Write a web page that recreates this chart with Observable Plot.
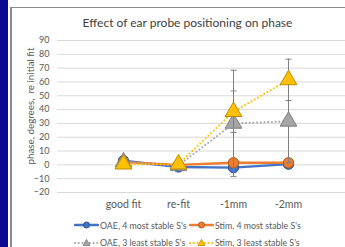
<!DOCTYPE html>
<html><head><meta charset="utf-8">
<script src="https://cdn.jsdelivr.net/npm/d3@7"></script>
<script src="https://cdn.jsdelivr.net/npm/@observablehq/plot@0.6"></script>
<style>
html,body{margin:0;padding:0;background:#fff;overflow:hidden}
#wrap{position:relative;width:345px;height:247px;overflow:hidden;font-family:Lato,"Open Sans",sans-serif}
#strip{position:absolute;left:0;top:0;width:8px;height:247px;background:#0a0a90}
#frame{position:absolute;left:10px;top:7px;width:400px;height:300px;border-left:2px solid #8a8a8a;border-top:1.5px solid #8a8a8a}
#head{position:absolute;left:30px;top:-23px;line-height:24px;font:bold 20px "Liberation Sans",Arial,sans-serif;color:#000;white-space:nowrap}
#title{position:absolute;left:0;width:375px;top:15px;text-align:center;font-size:12px;color:#404040}
#ylab{position:absolute;left:30px;top:106px;transform:translate(-50%,-50%) rotate(-90deg);font-size:9.8px;color:#595959;white-space:nowrap}
#chart{position:absolute;left:0;top:0}
#legend{position:absolute;left:0;top:0;width:345px;height:247px;font-size:8.8px;color:#595959}
.li{position:absolute;display:flex;align-items:center;white-space:nowrap}
</style></head>
<body><div id="wrap">
<div id="strip"></div>
<div id="head">Ear probe repositioning and phase change</div>
<div id="frame"></div>
<div id="chart"></div>
<div id="title">Effect of ear probe positioning on phase</div>
<div id="ylab">phase, degrees,&nbsp; re initial fit</div>
<div id="legend"></div>
</div>
<script>
const categories = ["good fit", "re-fit", "-1mm", "-2mm"];
const yTicks = [-20, -10, 0, 10, 20, 30, 40, 50, 60, 70, 80, 90];
const seriesNames = ["OAE, 4 most stable S's", "Stim, 4 most stable S's", "OAE, 3 least stable S's", "Stim, 3 least stable S's"];
const oae4 = [3, -1.5, -2, 0.5];
const stim4 = [2, 0, 1.5, 1.5];
const oae3 = [2, -0.5, 30, 31.5];
const stim3 = [0.5, 0.5, 38.5, 61.5];
const oae4Err = [0, 1, 3, 2];
const stim4Err = [0, 1, 2, 2];
const oae3Err = [0, 0, 38.5, 30];
const stim3Err = [0, 0, 15, 15];

const styles = [
  {fill:"#4472C4", stroke:"#2F528F", line:"#4472C4", dash:null, symbol:"circle", r:5.2, w:2.4},
  {fill:"#ED7D31", stroke:"#AE5A21", line:"#ED7D31", dash:null, symbol:"circle", r:5.2, w:2.4},
  {fill:"#A5A5A5", stroke:"#7F7F7F", line:"#A5A5A5", dash:"0.1,3.6", symbol:"triangle", r:6.2, w:2},
  {fill:"#FFC000", stroke:"#BC8C00", line:"#FFC000", dash:"0.1,3.6", symbol:"triangle", r:6.2, w:2}
];
const values = [oae4, stim4, oae3, stim3];
const errs = [oae4Err, stim4Err, oae3Err, stim3Err];

const cap = {draw(ctx, size){ ctx.moveTo(-3, 0); ctx.lineTo(3, 0); }};

const marks = [
  Plot.ruleY(yTicks, {stroke:"#d9d9d9", strokeWidth:1})
];
values.forEach((vals, s) => {
  const st = styles[s];
  const rows = categories.map((c, i) => ({cat:c, v:vals[i], e:errs[s][i]}));
  const eb = rows.filter(d => d.e > 0);
  marks.push(
    Plot.ruleX(eb, {x:"cat", y1:d => d.v - d.e, y2:d => d.v + d.e, stroke:"#7f7f7f", strokeWidth:1}),
    Plot.dot(eb, {x:"cat", y:d => d.v + d.e, symbol:cap, r:3, stroke:"#7f7f7f", strokeWidth:1}),
    Plot.dot(eb, {x:"cat", y:d => d.v - d.e, symbol:cap, r:3, stroke:"#7f7f7f", strokeWidth:1}),
    Plot.line(rows, {x:"cat", y:"v", stroke:st.line, strokeWidth:st.w, strokeDasharray:st.dash, strokeLinecap:"round"}),
    Plot.dot(rows, {x:"cat", y:"v", symbol:st.symbol, r:st.r, fill:st.fill, stroke:st.stroke, strokeWidth:1})
  );
});

const chart = Plot.plot({
  width:345, height:215,
  marginLeft:57, marginRight:0, marginTop:40, marginBottom:23,
  style:{background:"transparent", fontFamily:"Lato, sans-serif", color:"#595959"},
  x:{type:"point", domain:categories, range:[94, 316], label:null, tickSize:0, tickPadding:8, tickFormat:d => d},
  y:{domain:[-20, 90], ticks:yTicks, label:null, tickSize:0, tickPadding:8},
  marks:[
    ...marks,
    Plot.axisX({tickSize:0, tickPadding:8, fontSize:10.5, label:null}),
    Plot.axisY(yTicks, {tickSize:0, tickPadding:8, fontSize:9, label:null})
  ]
});
document.getElementById("chart").appendChild(chart);

// legend
const leg = document.getElementById("legend");
const pos = [[74, 225], [189, 225], [74, 242.5], [189, 242.5]];
seriesNames.forEach((name, s) => {
  const st = styles[s];
  const div = document.createElement("div");
  div.className = "li";
  div.style.left = pos[s][0] + "px";
  div.style.top = (pos[s][1] - 6) + "px";
  div.style.height = "12px";
  const sym = st.symbol === "circle"
    ? `<circle cx="12.5" cy="6" r="3" fill="${st.fill}" stroke="${st.stroke}" stroke-width="1"/>`
    : `<path d="M12.5,2.3 L16,8.5 L9,8.5 Z" fill="${st.fill}" stroke="${st.stroke}" stroke-width="0.8"/>`;
  div.innerHTML = `<svg width="25" height="12" style="display:block"><line x1="1" x2="24" y1="6" y2="6" stroke="${st.line}" stroke-width="${st.w}" stroke-linecap="round" ${st.dash ? `stroke-dasharray="${st.dash}"` : ""}/>${sym}</svg><span style="margin-left:1px">${name}</span>`;
  leg.appendChild(div);
});
</script>
</body></html>
